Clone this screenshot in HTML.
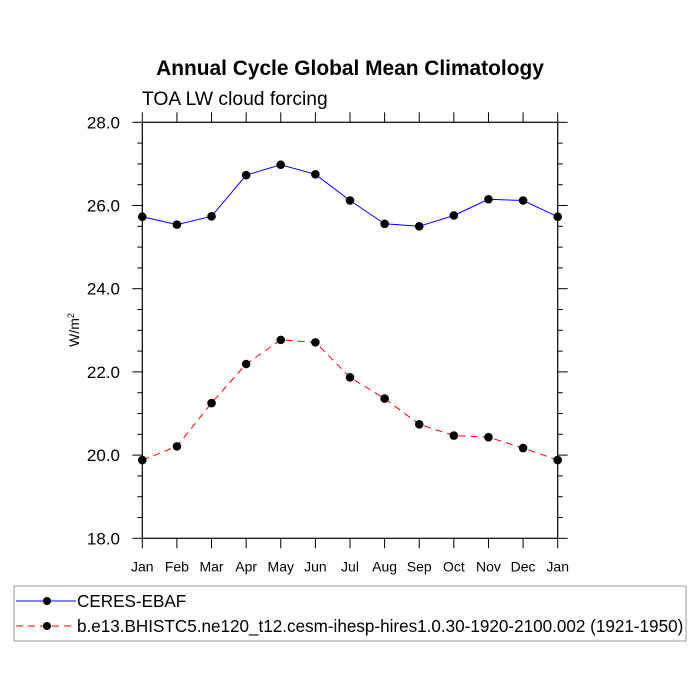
<!DOCTYPE html>
<html><head><meta charset="utf-8"><style>
html,body{margin:0;padding:0;background:#fff}
svg{display:block;font-family:"Liberation Sans",Arial,sans-serif}
</style></head><body>
<svg id="chart" width="700" height="700" viewBox="0 0 700 700">
<text x="350" y="75" text-anchor="middle" font-size="20.9" font-weight="bold">Annual Cycle Global Mean Climatology</text>
<text x="142" y="105" font-size="19.3">TOA LW cloud forcing</text>
<text transform="translate(79,330) rotate(-90)" text-anchor="middle" font-size="14">W/m<tspan dy="-5" font-size="9">2</tspan></text>
<g id="axes"></g><g id="series"></g>
<rect x="14" y="586" width="672" height="55" fill="none" stroke="#999" stroke-width="1"/>
<g>
<line x1="16" y1="601" x2="76" y2="601" stroke="#0000ff" stroke-width="1"/>
<circle cx="47" cy="601" r="4" fill="#000"/>
<text x="77" y="607" font-size="17.1">CERES-EBAF</text></g>
<g>
<line x1="16" y1="626" x2="76" y2="626" stroke="#ff0000" stroke-width="1" stroke-dasharray="7,5"/>
<circle cx="47" cy="626" r="4" fill="#000"/>
<text x="77" y="632" font-size="17.1">b.e13.BHISTC5.ne120_t12.cesm-ihesp-hires1.0.30-1920-2100.002 (1921-1950)</text></g>
</svg>
<script>
const months=["Jan","Feb","Mar","Apr","May","Jun","Jul","Aug","Sep","Oct","Nov","Dec","Jan"];
const ceresValues=[25.73,25.54,25.74,26.73,26.98,26.75,26.12,25.56,25.50,25.76,26.15,26.12,25.73];
const modelValues=[19.88,20.21,21.25,22.19,22.77,22.71,21.87,21.36,20.74,20.47,20.43,20.17,19.88];
const yTicks=[18,20,22,24,26,28];
const yTickLabels=["18.0","20.0","22.0","24.0","26.0","28.0"];
const X0=142.3,X1=557.7,Y0=538.3,Y1=122.3,YMIN=18,YMAX=28;
const NS="http://www.w3.org/2000/svg";
function xs(i){return X0+(X1-X0)*i/(months.length-1);}
function ys(v){return Y0-(v-YMIN)/(YMAX-YMIN)*(Y0-Y1);}
function mk(tag,attrs,parent){const e=document.createElementNS(NS,tag);for(const k in attrs)e.setAttribute(k,attrs[k]);parent.appendChild(e);return e;}
const ax=document.getElementById('axes');
const frame=mk('rect',{x:X0,y:Y1,width:X1-X0,height:Y0-Y1,fill:'none',stroke:'#000','stroke-width':1.2},ax);


for(let i=0;i<months.length;i++){
  const x=xs(i);
  mk('line',{x1:x,y1:Y0,x2:x,y2:Y0+10,stroke:'#000'},ax);
  mk('line',{x1:x,y1:Y1,x2:x,y2:Y1-10,stroke:'#000'},ax);
  const t=mk('text',{x:x,y:Y0+33,'text-anchor':'middle','font-size':14},ax);
  t.textContent=months[i];
  
  
}
for(let v=YMIN;v<=YMAX+0.001;v+=0.5){
  const y=ys(v);const major=Math.abs(v-Math.round(v/2)*2)<0.01;const L=major?10:5;
  mk('line',{x1:X0,y1:y,x2:X0-L,y2:y,stroke:'#000'},ax);
  mk('line',{x1:X1,y1:y,x2:X1+L,y2:y,stroke:'#000'},ax);
}
yTicks.forEach((v,i)=>{
  const t=mk('text',{x:120,y:ys(v)+6,'text-anchor':'end','font-size':17},ax);
  t.textContent=yTickLabels[i];
  
  
});
const sg=document.getElementById('series');
function drawSeries(vals,color,dash,name){
  const g=mk('g',{},sg);
  
  
  const pts=vals.map((v,i)=>xs(i)+','+ys(v)).join(' ');
  const attrs={points:pts,fill:'none',stroke:color,'stroke-width':1};
  if(dash)attrs['stroke-dasharray']=dash;
  mk('polyline',attrs,g);
  vals.forEach((v,i)=>{
    const c=mk('circle',{cx:xs(i),cy:ys(v),r:4.3,fill:'#000'},g);
    
    
  });
}
drawSeries(ceresValues,'#0000ff',null,'ceres-series');
drawSeries(modelValues,'#ff0000','7,5','model-series');
</script>
</body></html>
